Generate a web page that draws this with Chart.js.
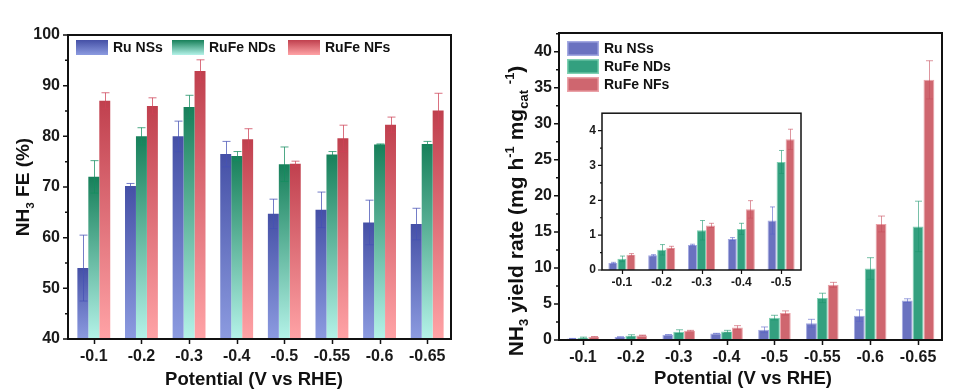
<!DOCTYPE html>
<html><head><meta charset="utf-8">
<script src="https://cdn.jsdelivr.net/npm/chart.js@4.4.1/dist/chart.umd.min.js"></script>
<style>
html,body{margin:0;padding:0;background:#fff;width:965px;height:392px;overflow:hidden}
canvas{position:absolute;display:block}
#cL{left:0;top:0}
#cR{left:480px;top:0}
#cI{left:570px;top:100px}
</style></head><body>
<canvas id="cL" width="480" height="392"></canvas>
<canvas id="cR" width="485" height="392"></canvas>
<canvas id="cI" width="240" height="200"></canvas>
<script>
// ---------- data ----------
const potentials = ['-0.1','-0.2','-0.3','-0.4','-0.5','-0.55','-0.6','-0.65'];
const seriesNames = ['Ru NSs','RuFe NDs','RuFe NFs'];

const feRuNSs       = [54.0, 70.2, 80.0, 76.5, 64.7, 65.5, 63.0, 62.7];
const feRuNSsErr    = [6.5, 0.5, 3.0, 2.5, 2.9, 3.5, 4.4, 3.1];
const feRuFeNDs     = [72.0, 80.0, 85.8, 76.1, 74.5, 76.4, 78.4, 78.5];
const feRuFeNDsErr  = [3.2, 1.7, 2.3, 0.9, 3.4, 0.6, 0.1, 0.5];
const feRuFeNFs     = [87.0, 86.0, 92.9, 79.4, 74.6, 79.6, 82.3, 85.1];
const feRuFeNFsErr  = [1.6, 1.6, 2.2, 2.1, 0.5, 2.6, 1.5, 3.4];

const yieldRuNSs       = [0.20, 0.42, 0.72, 0.89, 1.42, 2.32, 3.38, 5.47];
const yieldRuNSsErr    = [0.02, 0.02, 0.02, 0.04, 0.39, 0.55, 0.80, 0.25];
const yieldRuFeNDs     = [0.32, 0.58, 1.14, 1.18, 3.10, 5.84, 9.92, 15.76];
const yieldRuFeNDsErr  = [0.08, 0.15, 0.28, 0.16, 0.33, 0.65, 1.50, 3.50];
const yieldRuFeNFs     = [0.44, 0.64, 1.28, 1.74, 3.75, 7.65, 16.10, 36.10];
const yieldRuFeNFsErr  = [0.03, 0.04, 0.06, 0.25, 0.29, 0.35, 1.10, 2.65];

const insetCount = 5; // inset zooms on the first five potentials
const feTicks = [40, 50, 60, 70, 80, 90, 100];
const yieldTicks = [0, 5, 10, 15, 20, 25, 30, 35, 40];
const insetTicks = [0, 1, 2, 3, 4];

// ---------- helpers ----------
const FAM = '"Liberation Sans", Arial, Helvetica, sans-serif';
Chart.defaults.font.family = FAM;
Chart.defaults.font.weight = 'bold';
Chart.defaults.color = '#1a1a1a';

function gradFill(top, bottom) {
  return (c) => {
    const ch = c.chart, a = ch.chartArea;
    if (!a || c.type !== 'data') return top;
    const y0 = ch.scales.y.getPixelForValue(c.raw);
    const g = ch.ctx.createLinearGradient(0, y0, 0, a.bottom);
    g.addColorStop(0, top);
    g.addColorStop(1, bottom);
    return g;
  };
}

const errorBars = {
  id: 'errorBars',
  afterDatasetsDraw(chart, args, opts) {
    const ctx = chart.ctx, ys = chart.scales.y, a = chart.chartArea;
    ctx.save();
    ctx.beginPath(); ctx.rect(a.left, a.top - 20, a.right - a.left, a.bottom - a.top + 20); ctx.clip();
    chart.data.datasets.forEach((ds, i) => {
      const meta = chart.getDatasetMeta(i);
      meta.data.forEach((el, j) => {
        const v = ds.data[j], e = ds.errors[j];
        if (e == null) return;
        const x = Math.round(el.x) + 0.5;
        const yt = ys.getPixelForValue(v + e), yb = ys.getPixelForValue(v - e);
        ctx.strokeStyle = ds.errColor; ctx.lineWidth = 1;
        ctx.beginPath();
        ctx.moveTo(x, yt); ctx.lineTo(x, yb);
        ctx.moveTo(x - opts.cap, yt); ctx.lineTo(x + opts.cap, yt);
        ctx.moveTo(x - opts.cap, yb); ctx.lineTo(x + opts.cap, yb);
        ctx.stroke();
      });
    });
    ctx.restore();
  }
};

function axesDeco(cfg) {
  return {
    id: 'axesDeco',
    afterDraw(chart) {
      const ctx = chart.ctx, a = chart.chartArea, xs = chart.scales.x, ys = chart.scales.y;
      const L = a.left - (cfg.frameShift || 0);
      ctx.save();
      ctx.strokeStyle = '#111';
      ctx.lineWidth = cfg.frame;
      ctx.strokeRect(L, a.top, a.right - L, a.bottom - a.top);
      ctx.lineWidth = cfg.tickW;
      ctx.beginPath();
      const majors = cfg.ticks;
      majors.forEach(v => { const y = ys.getPixelForValue(v); ctx.moveTo(L - cfg.major, y); ctx.lineTo(L, y); });
      const minors = [];
      for (let k = 0; k < majors.length - 1; k++) minors.push((majors[k] + majors[k + 1]) / 2);
      const last = majors[majors.length - 1] + cfg.minorStep;
      if (last <= ys.max - 0.05) minors.push(last);
      minors.forEach(v => { const y = ys.getPixelForValue(v); ctx.moveTo(L - cfg.minor, y); ctx.lineTo(L, y); });
      xs.ticks.forEach((t, i) => { const x = Math.round(xs.getPixelForTick(i)) + 0.5; ctx.moveTo(x, a.bottom); ctx.lineTo(x, a.bottom + cfg.major); });
      ctx.stroke();
      ctx.restore();
    }
  };
}

function richWidth(ctx, parts, size) {
  let w = 0;
  parts.forEach(p => { ctx.font = `bold ${p.s ? size * 0.62 : size}px ${FAM}`; w += ctx.measureText(p.t).width; });
  return w;
}
function drawRich(ctx, parts, cx, cy, size, rotate) {
  ctx.save();
  ctx.translate(cx, cy);
  if (rotate) ctx.rotate(-Math.PI / 2);
  const w = richWidth(ctx, parts, size);
  let x = -w / 2;
  ctx.fillStyle = '#111';
  ctx.textBaseline = 'alphabetic';
  ctx.textAlign = 'left';
  parts.forEach(p => {
    const sz = p.s ? size * 0.62 : size;
    ctx.font = `bold ${sz}px ${FAM}`;
    const dy = p.s === 'sub' ? size * 0.25 : (p.s === 'sup' ? -size * 0.42 : 0);
    ctx.fillText(p.t, x, size * 0.36 + dy);
    x += ctx.measureText(p.t).width;
  });
  ctx.restore();
}

function titles(cfg) {
  return {
    id: 'titles',
    afterDraw(chart) {
      const ctx = chart.ctx;
      drawRich(ctx, cfg.x, cfg.xPos[0], cfg.xPos[1], cfg.xSize, false);
      drawRich(ctx, cfg.y, cfg.yPos[0], cfg.yPos[1], cfg.ySize, true);
    }
  };
}

function legendPlugin(items) {
  return {
    id: 'customLegend',
    afterDraw(chart) {
      const ctx = chart.ctx;
      ctx.save();
      items.forEach(it => {
        if (it.grad) {
          const g = ctx.createLinearGradient(0, it.y, 0, it.y + it.h);
          g.addColorStop(0, it.grad[0]); g.addColorStop(1, it.grad[1]);
          ctx.fillStyle = g;
        } else ctx.fillStyle = it.fill;
        ctx.fillRect(it.x, it.y, it.w, it.h);
        if (it.border) { ctx.strokeStyle = it.border; ctx.lineWidth = 1.5; ctx.strokeRect(it.x + 0.75, it.y + 0.75, it.w - 1.5, it.h - 1.5); }
        ctx.fillStyle = '#111';
        ctx.font = `bold 14px ${FAM}`;
        ctx.textBaseline = 'middle';
        ctx.fillText(it.label, it.x + it.w + 5, it.y + it.h / 2 + 1);
      });
      ctx.restore();
    }
  };
}

function opts(o) {
  return {
    responsive: false, animation: false, events: [],
    layout: { padding: o.padding },
    plugins: { legend: { display: false }, tooltip: { enabled: false }, errorBars: { cap: o.cap } },
    datasets: { bar: { categoryPercentage: o.cat, barPercentage: 1 } },
    scales: {
      x: {
        type: 'category', offset: true,
        grid: { display: false, drawTicks: false }, border: { display: false },
        ticks: { font: { size: o.xFont, weight: 'bold' }, color: '#1a1a1a', padding: o.xPad, maxRotation: 0, autoSkip: false },
        afterFit: s => { s.height = o.xH; }
      },
      y: {
        type: 'linear', min: o.min, max: o.max,
        grid: { display: false, drawTicks: false }, border: { display: false },
        ticks: { font: { size: o.yFont, weight: 'bold' }, color: '#1a1a1a', padding: o.yPad },
        afterBuildTicks: s => { s.ticks = o.ticks.map(v => ({ value: v })); },
        afterFit: s => { s.width = o.yW; }
      }
    }
  };
}

// ---------- left panel: FE ----------
const gradBlue = ['#4550a6', '#8c9be0'];
const gradGreen = ['#17805a', '#b4f2e8'];
const gradRed = ['#c0404e', '#ffa3a6'];

new Chart(document.getElementById('cL'), {
  type: 'bar',
  data: {
    labels: potentials,
    datasets: [
      { label: seriesNames[0], data: feRuNSs, errors: feRuNSsErr, backgroundColor: gradFill(...gradBlue), errColor: 'rgba(70,82,180,0.75)' },
      { label: seriesNames[1], data: feRuFeNDs, errors: feRuFeNDsErr, backgroundColor: gradFill(...gradGreen), errColor: 'rgba(20,140,95,0.75)' },
      { label: seriesNames[2], data: feRuFeNFs, errors: feRuFeNFsErr, backgroundColor: gradFill(...gradRed), errColor: 'rgba(205,65,85,0.75)' }
    ]
  },
  options: opts({ padding: { left: 0, right: 29, top: 35, bottom: 0 }, yW: 70, xH: 53, min: 40, max: 100,
    ticks: feTicks, cat: 0.69, cap: 4, xFont: 16, yFont: 16, xPad: 8, yPad: 10 }),
  plugins: [errorBars,
    axesDeco({ frame: 2, tickW: 1.5, major: 5, minor: 3, ticks: feTicks, minorStep: 5, frameShift: 2 }),
    titles({ x: [{ t: 'Potential (V vs RHE)' }], xPos: [254, 378], xSize: 18.5,
             y: [{ t: 'NH' }, { t: '3', s: 'sub' }, { t: ' FE (%)' }], yPos: [22, 187], ySize: 19 }),
    legendPlugin([
      { x: 76, y: 40, w: 32, h: 15, grad: gradBlue, label: seriesNames[0] },
      { x: 172, y: 40, w: 32, h: 15, grad: gradGreen, label: seriesNames[1] },
      { x: 288, y: 40, w: 32, h: 15, grad: gradRed, label: seriesNames[2] }
    ])]
});

// ---------- right panel: yield rate ----------
const flatBlue = '#6a72c0', flatGreen = '#33a07f', flatRed = '#cf666f';
const edgeBlue = '#a4aae2', edgeGreen = '#7fd0b2', edgeRed = '#eaa2a8';

new Chart(document.getElementById('cR'), {
  type: 'bar',
  data: {
    labels: potentials,
    datasets: [
      { label: seriesNames[0], data: yieldRuNSs, errors: yieldRuNSsErr, backgroundColor: flatBlue, borderColor: edgeBlue, borderWidth: 1, errColor: 'rgba(90,100,200,0.6)' },
      { label: seriesNames[1], data: yieldRuFeNDs, errors: yieldRuFeNDsErr, backgroundColor: flatGreen, borderColor: edgeGreen, borderWidth: 1, errColor: 'rgba(30,150,110,0.6)' },
      { label: seriesNames[2], data: yieldRuFeNFs, errors: yieldRuFeNFsErr, backgroundColor: flatRed, borderColor: edgeRed, borderWidth: 1, errColor: 'rgba(200,80,95,0.6)' }
    ]
  },
  options: opts({ padding: { left: 0, right: 23, top: 33, bottom: 0 }, yW: 79, xH: 52, min: 0, max: 42.6,
    ticks: yieldTicks, cat: 0.68, cap: 3.5, xFont: 16, yFont: 16, xPad: 8, yPad: 7 }),
  plugins: [errorBars,
    axesDeco({ frame: 2, tickW: 1.5, major: 5, minor: 3, ticks: yieldTicks, minorStep: 2.5 }),
    titles({ x: [{ t: 'Potential (V vs RHE)' }], xPos: [263, 377], xSize: 18.5,
             y: [{ t: 'NH' }, { t: '3', s: 'sub' }, { t: ' yield rate (mg h' }, { t: '-1', s: 'sup' }, { t: ' mg' }, { t: 'cat', s: 'sub' }, { t: ' ' }, { t: '-1', s: 'sup' }, { t: ')' }],
             yPos: [35, 211], ySize: 21 }),
    legendPlugin([
      { x: 87, y: 41, w: 32, h: 15, fill: flatBlue, border: edgeBlue, label: seriesNames[0] },
      { x: 87, y: 59, w: 32, h: 15, fill: flatGreen, border: edgeGreen, label: seriesNames[1] },
      { x: 87, y: 77, w: 32, h: 15, fill: flatRed, border: edgeRed, label: seriesNames[2] }
    ])]
});

// ---------- inset ----------
new Chart(document.getElementById('cI'), {
  type: 'bar',
  data: {
    labels: potentials.slice(0, insetCount),
    datasets: [
      { data: yieldRuNSs.slice(0, insetCount), errors: yieldRuNSsErr.slice(0, insetCount), backgroundColor: flatBlue, borderColor: edgeBlue, borderWidth: 1, errColor: 'rgba(90,100,200,0.6)' },
      { data: yieldRuFeNDs.slice(0, insetCount), errors: yieldRuFeNDsErr.slice(0, insetCount), backgroundColor: flatGreen, borderColor: edgeGreen, borderWidth: 1, errColor: 'rgba(30,150,110,0.6)' },
      { data: yieldRuFeNFs.slice(0, insetCount), errors: yieldRuFeNFsErr.slice(0, insetCount), backgroundColor: flatRed, borderColor: edgeRed, borderWidth: 1, errColor: 'rgba(200,80,95,0.6)' }
    ]
  },
  options: opts({ padding: { left: 0, right: 9, top: 11, bottom: 0 }, yW: 32, xH: 30, min: 0, max: 4.5,
    ticks: insetTicks, cat: 0.68, cap: 2.5, xFont: 12, yFont: 12, xPad: 5, yPad: 6 }),
  plugins: [errorBars,
    axesDeco({ frame: 1.5, tickW: 1.2, major: 4, minor: 2, ticks: insetTicks, minorStep: 0.5 })]
});
</script>
</body></html>
